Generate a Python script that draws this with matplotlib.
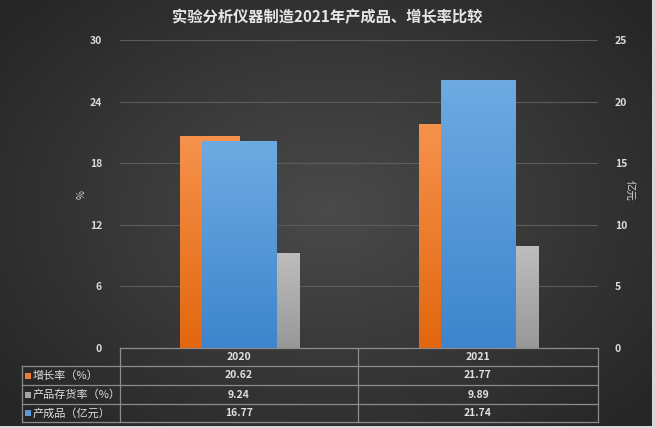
import numpy as np
import matplotlib
matplotlib.use("Agg")
import matplotlib.pyplot as plt
from matplotlib.colors import LinearSegmentedColormap

plt.rcParams['font.family'] = ['Noto Sans CJK SC', 'DejaVu Sans']

# ---- data ----
title = "实验分析仪器制造2021年产成品、增长率比较"
categories = ["2020", "2021"]
growth_rate = [20.62, 21.77]       # %
inventory_rate = [9.24, 9.89]      # %
product_value = [16.77, 21.74]     # 亿元
series_labels = ["增长率（%）", "产品存货率（%）", "产成品（亿元）"]
left_ticks = [0, 6, 12, 18, 24, 30]
right_ticks = [0, 5, 10, 15, 20, 25]

W, H = 655, 428
fig = plt.figure(figsize=(W / 100, H / 100), dpi=100)

# background radial gradient
bg = fig.add_axes([0, 0, 1, 1], zorder=-10)
yy, xx = np.mgrid[0:H, 0:W]
r = np.sqrt(((xx - 330) / 420.0) ** 2 + ((yy - 210) / 300.0) ** 2)
r = np.clip(r, 0, 1)
c0 = np.array([0x4a, 0x4a, 0x4a]) / 255
c1 = np.array([0x26, 0x26, 0x26]) / 255
img = c0[None, None, :] * (1 - r[..., None]) + c1[None, None, :] * r[..., None]
bg.imshow(img, extent=[0, W, H, 0], aspect='auto')
bg.set_xlim(0, W)
bg.set_ylim(H, 0)
bg.axis('off')
# light border right/bottom
bg.add_patch(plt.Rectangle((W - 3, 0), 3, H, color='#d8d8d8', lw=0))
bg.add_patch(plt.Rectangle((0, H - 2), W, 2, color='#d8d8d8', lw=0))

def fx(px):
    return px / W

def fy(py):
    return 1 - py / H

L, R, T, B = 120, 598, 40, 348
ax = fig.add_axes([fx(L), fy(B), fx(R) - fx(L), fy(T) - fy(B)])
ax.patch.set_alpha(0)
ax2 = ax.twinx()
ax2.patch.set_alpha(0)

x = np.arange(len(categories))
unit = 239.0  # px per category
w_small = 60 / unit
w_big = 75 / unit


def grad_bars(a, xs, hs, width, top, bottom, z):
    cmap = LinearSegmentedColormap.from_list('g', [bottom, top])
    bars = a.bar(xs, hs, width=width, color='none', zorder=z, lw=0)
    for b in bars:
        x0, y0 = b.get_x(), b.get_y()
        grad = np.linspace(0, 1, 100).reshape(-1, 1)
        im = a.imshow(grad, cmap=cmap, origin='lower', aspect='auto',
                      extent=[x0, x0 + b.get_width(), y0, y0 + b.get_height()],
                      zorder=z)
        im.set_clip_path(b)
    return bars

grad_bars(ax, x - w_small / 2, growth_rate, w_small, '#F6924C', '#E2670E', 2)
grad_bars(ax, x + w_small / 2, inventory_rate, w_small, '#BDBDBD', '#989898', 2)
grad_bars(ax2, x, product_value, w_big, '#6EAAE2', '#3D85CC', 3)

ax.set_xlim(-0.5, 1.5)
ax.set_ylim(0, 30)
ax2.set_ylim(0, 25)
ax.set_yticks(left_ticks)
ax2.set_yticks(right_ticks)
ax.set_xticks([])
ax.grid(axis='y', color='#5c5c5c', lw=0.8, zorder=0)
ax.set_axisbelow(True)
for a in (ax, ax2):
    for s in a.spines.values():
        s.set_visible(False)
    a.tick_params(axis='y', length=0, colors='#d9d9d9', labelsize=7.5, pad=14)
ax.tick_params(axis='y', pad=13)
ax2.tick_params(axis='y', pad=12)
for lab in ax.get_yticklabels() + ax2.get_yticklabels():
    lab.set_fontweight('bold')

# titles
fig.text(fx(327), fy(17), title, ha='center', va='center', color='#e6e6e6',
         fontsize=11, fontweight='bold')
fig.text(fx(82), fy(195), "%", ha='center', va='center', color='#d9d9d9',
         fontsize=7, rotation=90)
fig.text(fx(629), fy(190), "亿元", ha='center', va='center', color='#d9d9d9',
         fontsize=7.5, rotation=-90)

# data table
lc = '#8c8c8c'
tl = dict(color=lc, lw=0.9)
rows_y = [348, 366, 385, 404, 422]
col_x = [22, 120, 358, 598]
# horizontal lines
fig.add_artist(plt.Line2D([fx(120), fx(598)], [fy(348), fy(348)], **tl))
for yv in rows_y[1:]:
    fig.add_artist(plt.Line2D([fx(22), fx(598)], [fy(yv), fy(yv)], **tl))
# vertical lines
fig.add_artist(plt.Line2D([fx(22), fx(22)], [fy(366), fy(422)], **tl))
for xv in col_x[1:]:
    fig.add_artist(plt.Line2D([fx(xv), fx(xv)], [fy(348), fy(422)], **tl))

tc = '#e0e0e0'
for i, c in enumerate(categories):
    cx = (col_x[i + 1] + col_x[i + 2]) / 2
    fig.text(fx(cx), fy(357), c, ha='center', va='center', color=tc, fontsize=7.5,
             fontweight='bold')

keys = ['#ED7D31', '#A5A5A5', '#5B9BD5']
table_vals = [growth_rate, inventory_rate, product_value]
for r_i, (lab, vals, kc) in enumerate(zip(series_labels, table_vals, keys)):
    cy = (rows_y[r_i + 1] + rows_y[r_i + 2]) / 2
    fig.add_artist(plt.Rectangle((fx(25), fy(cy + 3)), fx(6), fy(cy - 3) - fy(cy + 3),
                                 color=kc, lw=0))
    fig.text(fx(33), fy(cy), lab, ha='left', va='center', color=tc, fontsize=8)
    for i, v in enumerate(vals):
        cx = (col_x[i + 1] + col_x[i + 2]) / 2
        fig.text(fx(cx), fy(cy), f"{v:.2f}", ha='center', va='center', color=tc,
                 fontsize=7.5, fontweight='bold')

fig.savefig("out.png", dpi=100)
